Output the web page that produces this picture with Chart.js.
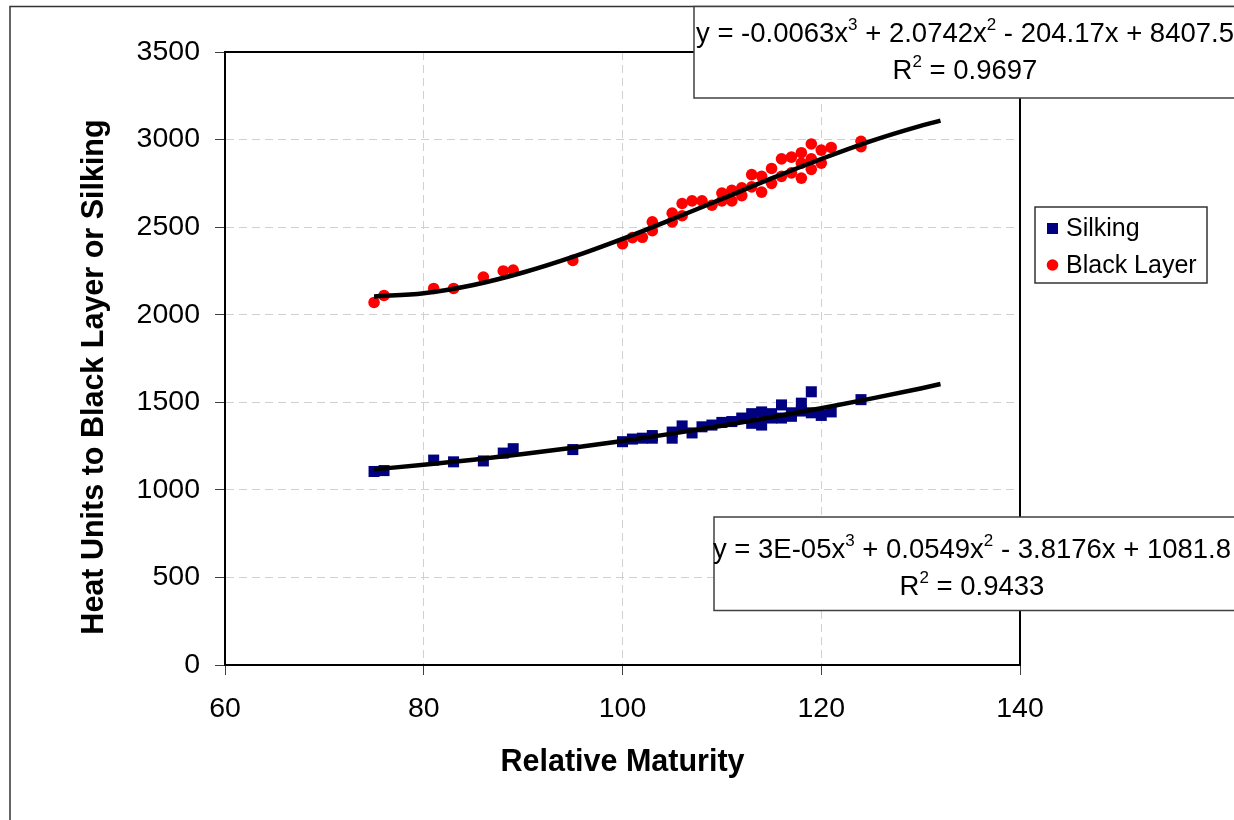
<!DOCTYPE html>
<html>
<head>
<meta charset="utf-8">
<style>
  html, body { margin: 0; padding: 0; background: #ffffff; }
  #wrap { position: relative; width: 1234px; height: 820px; }
  canvas { display: block; }
</style>
<script src="https://cdn.jsdelivr.net/npm/chart.js@4.4.1/dist/chart.umd.min.js"></script>
</head>
<body>
<div id="wrap"><canvas id="c" width="1234" height="820"></canvas></div>
<script>
// ---------- data ----------
const silkingX = [75, 76, 81, 83, 86, 88, 89, 95, 100, 101, 102, 103, 103, 105, 105, 106, 107, 108, 109, 110, 111, 112, 113, 113, 114, 114, 115, 115, 116, 116, 117, 117, 118, 118, 119, 119, 120, 121, 124];
const silkingY = [1105, 1110, 1170, 1160, 1165, 1210, 1235, 1230, 1275, 1290, 1295, 1295, 1310, 1295, 1330, 1365, 1325, 1360, 1370, 1385, 1390, 1410, 1380, 1435, 1370, 1445, 1410, 1435, 1410, 1485, 1420, 1440, 1450, 1495, 1440, 1560, 1425, 1445, 1515];

const blackX = [75, 76, 81, 83, 86, 88, 89, 95, 100, 101, 102, 103, 103, 105, 105, 106, 106, 107, 108, 109, 110, 110, 111, 111, 112, 112, 113, 113, 114, 114, 115, 115, 116, 116, 117, 117, 118, 118, 118, 119, 119, 119, 120, 120, 121, 124, 124];
const blackY = [2070, 2110, 2150, 2150, 2215, 2250, 2255, 2310, 2405, 2440, 2442, 2480, 2530, 2530, 2580, 2565, 2635, 2650, 2650, 2625, 2650, 2695, 2650, 2710, 2680, 2725, 2730, 2800, 2700, 2790, 2750, 2835, 2790, 2890, 2810, 2900, 2780, 2865, 2925, 2830, 2890, 2975, 2865, 2940, 2955, 2960, 2990];

// trendline values
const trendX = [75, 80, 85, 90, 95, 100, 105, 110, 115, 120, 125, 130, 132];
const blackTrendY = [2104, 2123, 2170, 2241, 2330, 2433, 2545, 2661, 2778, 2889, 2991, 3078, 3108];
const silkingTrendY = [1117, 1143, 1172, 1205, 1240, 1279, 1321, 1366, 1415, 1466, 1521, 1579, 1604];

const seriesNames = ['Silking', 'Black Layer'];
const xTitle = 'Relative Maturity';
const yTitle = 'Heat Units to Black Layer or Silking';
const blackEq = ['y = -0.0063x', '3', ' + 2.0742x', '2', ' - 204.17x + 8407.5'];
const blackR2 = 'R² = 0.9697';
const silkEq = ['y = 3E-05x', '3', ' + 0.0549x', '2', ' - 3.8176x + 1081.8'];
const silkR2 = 'R² = 0.9433';
const xMin = 60, xMax = 140, xStep = 20;
const yMin = 0, yMax = 3500, yStep = 500;

// ---------- helpers ----------
const FONT = "'Liberation Sans', Arial, sans-serif";
const pts = (xs, ys) => xs.map((x, i) => ({x: x, y: ys[i]}));

function drawEquation(ctx, segs, cx, baseline, size) {
  // segs alternate normal, superscript
  const supSize = Math.round(size * 0.62);
  let total = 0;
  const widths = segs.map((s, i) => {
    ctx.font = (i % 2 === 1 ? supSize : size) + 'px ' + FONT;
    const w = ctx.measureText(s).width;
    total += w;
    return w;
  });
  let x = cx - total / 2;
  segs.forEach((s, i) => {
    const sup = i % 2 === 1;
    ctx.font = (sup ? supSize : size) + 'px ' + FONT;
    ctx.fillText(s, x, sup ? baseline - size * 0.42 : baseline);
    x += widths[i];
  });
}

function drawR2(ctx, text, cx, baseline, size) {
  const parts = ['R', '2', text.slice(2)];
  drawEquation(ctx, parts, cx, baseline, size);
}

const decorPlugin = {
  id: 'decor',
  beforeDatasetsDraw(chart) {
    const {ctx, chartArea: a} = chart;
    ctx.save();
    ctx.strokeStyle = '#000000';
    ctx.lineWidth = 2;
    ctx.strokeRect(a.left, a.top, a.right - a.left, a.bottom - a.top);
    ctx.restore();
  },
  afterDraw(chart) {
    const {ctx} = chart;
    ctx.save();
    // outer chart border
    ctx.strokeStyle = '#333333';
    ctx.lineWidth = 1.5;
    ctx.strokeRect(10, 6.5, 1260, 840);

    // y axis title
    ctx.save();
    ctx.translate(102.5, 377);
    ctx.rotate(-Math.PI / 2);
    ctx.fillStyle = '#000000';
    ctx.font = 'bold 30.5px ' + FONT;
    ctx.textAlign = 'center';
    ctx.textBaseline = 'alphabetic';
    ctx.fillText(yTitle, 0, 0);
    ctx.restore();

    // equation boxes
    ctx.textAlign = 'left';
    ctx.textBaseline = 'alphabetic';
    ctx.fillStyle = '#ffffff';
    ctx.fillRect(694, 7, 600, 91);
    ctx.strokeStyle = '#404040';
    ctx.lineWidth = 1.5;
    ctx.strokeRect(694, 6.5, 600, 91.5);
    ctx.fillStyle = '#000000';
    drawEquation(ctx, blackEq, 965, 42, 27.5);
    drawR2(ctx, blackR2, 965, 79, 27.5);

    ctx.fillStyle = '#ffffff';
    ctx.fillRect(714, 517, 600, 93.5);
    ctx.strokeStyle = '#404040';
    ctx.strokeRect(714, 517, 600, 93.5);
    ctx.fillStyle = '#000000';
    drawEquation(ctx, silkEq, 972, 558, 27.5);
    drawR2(ctx, silkR2, 972, 595, 27.5);

    // legend
    ctx.fillStyle = '#ffffff';
    ctx.fillRect(1035, 207, 172, 76);
    ctx.strokeStyle = '#333333';
    ctx.lineWidth = 1.5;
    ctx.strokeRect(1035, 207, 172, 76);
    ctx.fillStyle = '#000080';
    ctx.fillRect(1047, 223, 11, 11);
    ctx.fillStyle = '#ff0000';
    ctx.beginPath();
    ctx.arc(1052.5, 265, 5.8, 0, Math.PI * 2);
    ctx.fill();
    ctx.fillStyle = '#000000';
    ctx.font = '25px ' + FONT;
    ctx.textBaseline = 'middle';
    ctx.fillText(seriesNames[0], 1066, 229);
    ctx.fillText(seriesNames[1], 1066, 266);
    ctx.restore();
  }
};

new Chart(document.getElementById('c'), {
  type: 'scatter',
  data: {
    datasets: [
      {
        label: seriesNames[1] + ' trend',
        data: pts(trendX, blackTrendY),
        showLine: true,
        cubicInterpolationMode: 'monotone',
        borderColor: '#000000',
        borderWidth: 4.5,
        pointRadius: 0,
        order: 0
      },
      {
        label: seriesNames[0] + ' trend',
        data: pts(trendX, silkingTrendY),
        showLine: true,
        cubicInterpolationMode: 'monotone',
        borderColor: '#000000',
        borderWidth: 4.5,
        pointRadius: 0,
        order: 0
      },
      {
        label: seriesNames[0],
        data: pts(silkingX, silkingY),
        pointStyle: 'rect',
        pointRadius: 7.8,
        backgroundColor: '#000080',
        borderColor: '#000080',
        borderWidth: 0,
        order: 1
      },
      {
        label: seriesNames[1],
        data: pts(blackX, blackY),
        pointStyle: 'circle',
        pointRadius: 5.8,
        backgroundColor: '#ff0000',
        borderColor: '#ff0000',
        borderWidth: 0,
        order: 1
      }
    ]
  },
  options: {
    responsive: false,
    animation: false,
    devicePixelRatio: 1,
    layout: { padding: { left: 0, top: 52, right: 214, bottom: 0 } },
    plugins: { legend: { display: false }, tooltip: { enabled: false } },
    scales: {
      x: {
        type: 'linear',
        min: xMin, max: xMax,
        afterFit(s) { s.height = 155; },
        ticks: { stepSize: xStep, color: '#000000', padding: 17, font: { family: FONT, size: 28.5 }, callback: v => String(v) },
        grid: { color: '#d0d0d0', lineWidth: 1, tickColor: '#404040', tickWidth: 1, tickLength: 10 },
        border: { display: true, color: '#000000', width: 2, dash: [8, 5] },
        title: { display: true, text: xTitle, color: '#000000', font: { family: FONT, size: 30.5, weight: 'bold' }, padding: { top: 0, bottom: 39 } }
      },
      y: {
        type: 'linear',
        min: yMin, max: yMax,
        afterFit(s) { s.width = 225; },
        ticks: { stepSize: yStep, color: '#000000', padding: 15, font: { family: FONT, size: 28.5 }, callback: v => String(v) },
        grid: { color: '#d0d0d0', lineWidth: 1, tickColor: '#404040', tickWidth: 1, tickLength: 10 },
        border: { display: true, color: '#000000', width: 2, dash: [8, 5] },
        title: { display: false }
      }
    }
  },
  plugins: [decorPlugin]
});
</script>
</body>
</html>
